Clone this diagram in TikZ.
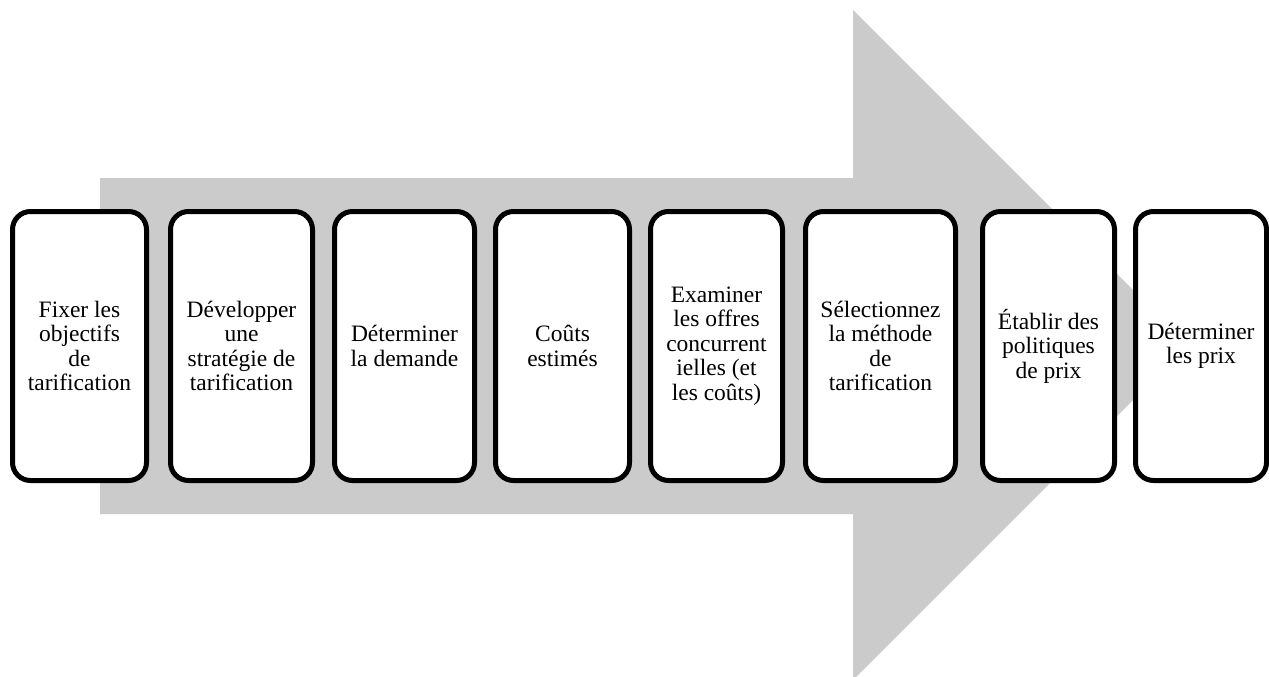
\documentclass[tikz,border=0pt]{standalone}
\usepackage{fontspec}
\setmainfont{Liberation Serif}
\begin{document}
\begin{tikzpicture}[x=1pt,y=-1pt,
  stepbox/.style={draw=black, line width=5pt, fill=white, rounded corners=18pt,
    minimum height=269pt, inner sep=0pt, align=center,
    font=\fontsize{23.5}{24.5}\selectfont},
  flow/.style={fill=arrowgray, draw=none}]
\definecolor{arrowgray}{RGB}{203,203,203}
\useasboundingbox (0,0) rectangle (1269,677);
% large process arrow in the background
\fill[flow] (100,178) -- (853,178) -- (853,10) -- (1188,345)
  -- (853,680) -- (853,514) -- (100,514) -- cycle;
% process steps
\node[stepbox, minimum width=134pt] (s1) at (79.5,346) {Fixer les\\objectifs\\de\\tarification};
\node[stepbox, minimum width=142pt] (s2) at (241.5,346) {Développer\\une\\stratégie de\\tarification};
\node[stepbox, minimum width=140pt] (s3) at (404.5,346) {Déterminer\\la demande};
\node[stepbox, minimum width=134pt] (s4) at (562.5,346) {Coûts\\estimés};
\node[stepbox, minimum width=132pt] (s5) at (716.5,346) {Examiner\\les offres\\concurrent\\ielles (et\\les coûts)};
\node[stepbox, minimum width=150pt] (s6) at (880.5,346) {Sélectionnez\\la méthode\\de\\tarification};
\node[stepbox, minimum width=132pt] (s7) at (1048.5,346) {Établir des\\politiques\\de prix};
\node[stepbox, minimum width=131pt] (s8) at (1201,346) {Déterminer\\les prix};
\end{tikzpicture}
\end{document}
